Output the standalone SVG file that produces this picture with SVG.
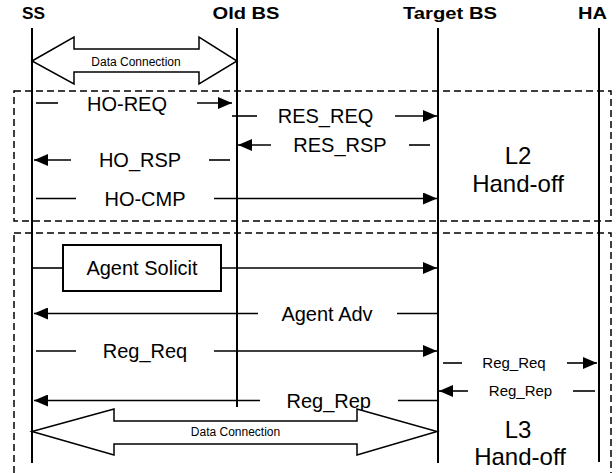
<svg xmlns="http://www.w3.org/2000/svg" width="616" height="473" viewBox="0 0 616 473">
<style>
.hdr{font-family:"Liberation Sans",Arial,sans-serif;font-weight:bold;font-size:16.5px;fill:#000;text-anchor:middle}
.lbl{font-family:"Liberation Sans",Arial,sans-serif;font-size:20px;fill:#000;text-anchor:middle}
.sm{font-family:"Liberation Sans",Arial,sans-serif;font-size:15px;fill:#000;text-anchor:middle}
.dc{font-family:"Liberation Sans",Arial,sans-serif;font-size:12px;fill:#000;text-anchor:middle}
.big{font-family:"Liberation Sans",Arial,sans-serif;font-size:24px;fill:#000;text-anchor:middle}
.life{stroke:#000;stroke-width:2;fill:none}
.msg{stroke:#000;stroke-width:1.6;fill:none}
.arr{stroke:#000;stroke-width:1.6;fill:none;marker-end:url(#ah)}
.frame{stroke:#000;stroke-width:1.5;fill:none;stroke-dasharray:7 4}
.fat{stroke:#000;stroke-width:1.5;fill:#fff;stroke-linejoin:miter}
</style>
<defs>
<marker id="ah" markerUnits="userSpaceOnUse" markerWidth="14" markerHeight="12" refX="14" refY="6" orient="auto" viewBox="0 0 14 12">
<path d="M0,0 L14,6 L0,12 z" fill="#000"/>
</marker>
</defs>
<rect width="616" height="473" fill="#fff"/>

<g id="frame-l2">
<rect class="frame" x="14" y="91" width="597" height="130"/>
<text class="big" x="518" y="164">L2</text>
<text class="big" x="518" y="191.5">Hand-off</text>
</g>
<g id="frame-l3">
<rect class="frame" x="14" y="233" width="597" height="260"/>
<text class="big" x="518" y="438">L3</text>
<text class="big" x="520" y="465">Hand-off</text>
</g>

<g id="ss">
<text class="hdr" x="33.5" y="19" textLength="23" lengthAdjust="spacingAndGlyphs">SS</text>
<line class="life" x1="32" y1="28" x2="32" y2="463"/>
</g>
<g id="old-bs">
<text class="hdr" x="246" y="19" textLength="67" lengthAdjust="spacingAndGlyphs">Old BS</text>
<line class="life" x1="237" y1="28" x2="237" y2="407"/>
</g>
<g id="target-bs">
<text class="hdr" x="450" y="19" textLength="94" lengthAdjust="spacingAndGlyphs">Target BS</text>
<line class="life" x1="438" y1="28" x2="438" y2="463"/>
</g>
<g id="ha">
<text class="hdr" x="592.5" y="19" textLength="29" lengthAdjust="spacingAndGlyphs">HA</text>
<line class="life" x1="599" y1="28" x2="599" y2="462"/>
</g>

<g id="agent-solicit-box">
<rect x="63" y="245" width="158" height="46" fill="#fff" stroke="#000" stroke-width="2"/>
<text class="lbl" x="142" y="275">Agent Solicit</text>
</g>

<g id="connectors">
<polygon class="fat" points="32,61 74,37 74,49 199,49 199,37 237,61 199,84 199,72 74,72 74,84"/>
<text class="dc" x="136" y="65.5">Data Connection</text>

<line class="msg" x1="36" y1="103" x2="58" y2="103"/>
<text class="lbl" x="127" y="111">HO-REQ</text>
<line class="arr" x1="197" y1="103" x2="232" y2="103"/>

<line class="msg" x1="232" y1="116" x2="257" y2="116"/>
<text class="lbl" x="325.5" y="123">RES_REQ</text>
<line class="arr" x1="395" y1="116" x2="437" y2="116"/>

<line class="arr" x1="271" y1="145" x2="238" y2="145"/>
<text class="lbl" x="340" y="152">RES_RSP</text>
<line class="msg" x1="409" y1="145" x2="430" y2="145"/>

<line class="arr" x1="71" y1="160" x2="34" y2="160"/>
<text class="lbl" x="140" y="167">HO_RSP</text>
<line class="msg" x1="209" y1="160" x2="230" y2="160"/>

<line class="msg" x1="36" y1="198.5" x2="76" y2="198.5"/>
<text class="lbl" x="145" y="205.5">HO-CMP</text>
<line class="arr" x1="214" y1="198.5" x2="437" y2="198.5"/>

<line class="msg" x1="32" y1="268" x2="63" y2="268"/>
<line class="arr" x1="221" y1="268" x2="437" y2="268"/>

<line class="arr" x1="258" y1="313.5" x2="34" y2="313.5"/>
<text class="lbl" x="327" y="321">Agent Adv</text>
<line class="msg" x1="397" y1="313.5" x2="437" y2="313.5"/>

<line class="msg" x1="36" y1="351" x2="76" y2="351"/>
<text class="lbl" x="145" y="358">Reg_Req</text>
<line class="arr" x1="214" y1="351" x2="437" y2="351"/>

<line class="msg" x1="443" y1="363" x2="462" y2="363"/>
<text class="sm" x="514" y="368">Reg_Req</text>
<line class="arr" x1="567" y1="363" x2="597" y2="363"/>

<line class="arr" x1="468" y1="391" x2="439" y2="391"/>
<text class="sm" x="520.5" y="396">Reg_Rep</text>
<line class="msg" x1="573" y1="391" x2="595" y2="391"/>

<line class="arr" x1="260" y1="400.5" x2="34" y2="400.5"/>
<text class="lbl" x="328.7" y="407.5">Reg_Rep</text>
<line class="msg" x1="398" y1="400.5" x2="437" y2="400.5"/>

<polygon class="fat" points="32,431.5 114,409 114,421 357,421 357,409 437,431.5 357,455 357,444 114,444 114,455"/>
<text class="dc" x="235.5" y="436">Data Connection</text>
</g>
</svg>
